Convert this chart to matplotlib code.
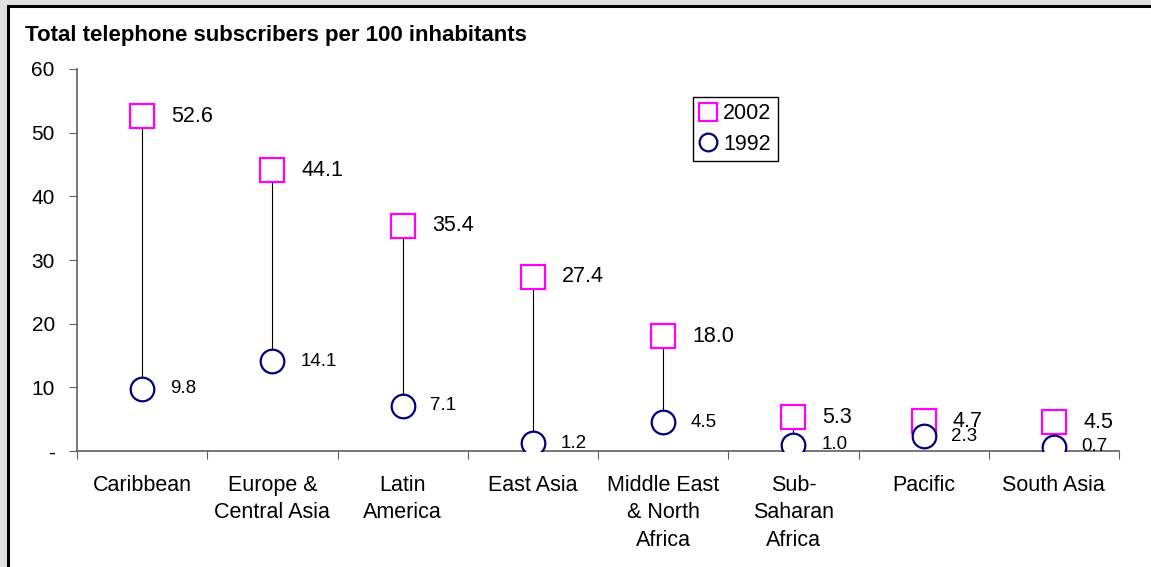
import matplotlib.pyplot as plt
import matplotlib.patches as patches
import numpy as np

plt.rcParams['font.family'] = ['Liberation Sans', 'DejaVu Sans']

regions = ['Caribbean', 'Europe &\nCentral Asia', 'Latin\nAmerica', 'East Asia',
           'Middle East\n& North\nAfrica', 'Sub-\nSaharan\nAfrica', 'Pacific', 'South Asia']
subs_2002 = [52.6, 44.1, 35.4, 27.4, 18.0, 5.3, 4.7, 4.5]
subs_1992 = [9.8, 14.1, 7.1, 1.2, 4.5, 1.0, 2.3, 0.7]

fig = plt.figure(figsize=(11.51, 5.67), dpi=100)
fig.patch.set_facecolor('#e0e0e0')
# white panel with black frame (runs off right/bottom edge)
fig.patches.append(patches.Rectangle((8 / 1151, -0.05), 1.1, 1 - 6 / 567 + 0.05,
                                     transform=fig.transFigure, facecolor='white',
                                     edgecolor='black', linewidth=2.2, zorder=-5))

ax = fig.add_axes([77 / 1151, 1 - 451 / 567, 1042 / 1151, 382 / 567])
ax.set_facecolor('none')
ax.set_zorder(2)

x = np.arange(len(regions))
ax.vlines(x, subs_1992, subs_2002, color='black', linewidth=0.8, zorder=1)
ax.plot(x, subs_2002, linestyle='none', marker='s', markersize=17,
        markerfacecolor='white', markeredgecolor='#ff00ff', markeredgewidth=1.6,
        zorder=3, label='2002')
ax.plot(x, subs_1992, linestyle='none', marker='o', markersize=17,
        markerfacecolor='white', markeredgecolor='#000080', markeredgewidth=1.6,
        zorder=3, label='1992')

for xi, v in zip(x, subs_2002):
    ax.annotate(f'{v:.1f}', (xi, v), xytext=(21, 0), textcoords='offset points',
                va='center', ha='left', fontsize=15.5)
for xi, v in zip(x, subs_1992):
    ax.annotate(f'{v:.1f}', (xi, v), xytext=(20, 0), textcoords='offset points',
                va='center', ha='left', fontsize=13.5)

ax.set_xlim(-0.5, len(regions) - 0.5)
ax.set_ylim(0, 60)
ax.set_yticks(range(0, 61, 10))
ax.set_yticklabels(['-'] + [str(v) for v in range(10, 61, 10)], fontsize=15)
ax.set_xticks(np.arange(-0.5, len(regions), 1))
ax.set_xticklabels([])
ax.set_xticks(x, minor=True)
ax.set_xticklabels(regions, minor=True, fontsize=15.5, linespacing=1.42)
ax.tick_params(axis='x', which='minor', length=0, pad=17)
ax.tick_params(axis='x', which='major', length=6, direction='out', color='#606060')
ax.tick_params(axis='y', length=6, direction='out', color='#606060', pad=10)

for s in ['top', 'right']:
    ax.spines[s].set_visible(False)
for s in ['left', 'bottom']:
    ax.spines[s].set_color('#606060')
    ax.spines[s].set_linewidth(1.2)

leg = ax.legend(loc='upper left', bbox_to_anchor=(0.591, 0.927), borderaxespad=0,
                fontsize=15.5, markerscale=0.75, handlelength=0.8, handletextpad=0.3,
                fancybox=False, edgecolor='black', framealpha=1,
                borderpad=0.3, labelspacing=0.45)
leg.get_frame().set_linewidth(1.0)

fig.text(25 / 1151, 1 - 35 / 567, 'Total telephone subscribers per 100 inhabitants',
         fontsize=16, fontweight='bold', ha='left', va='center')

fig.savefig('out.png', dpi=100, facecolor=fig.get_facecolor())
